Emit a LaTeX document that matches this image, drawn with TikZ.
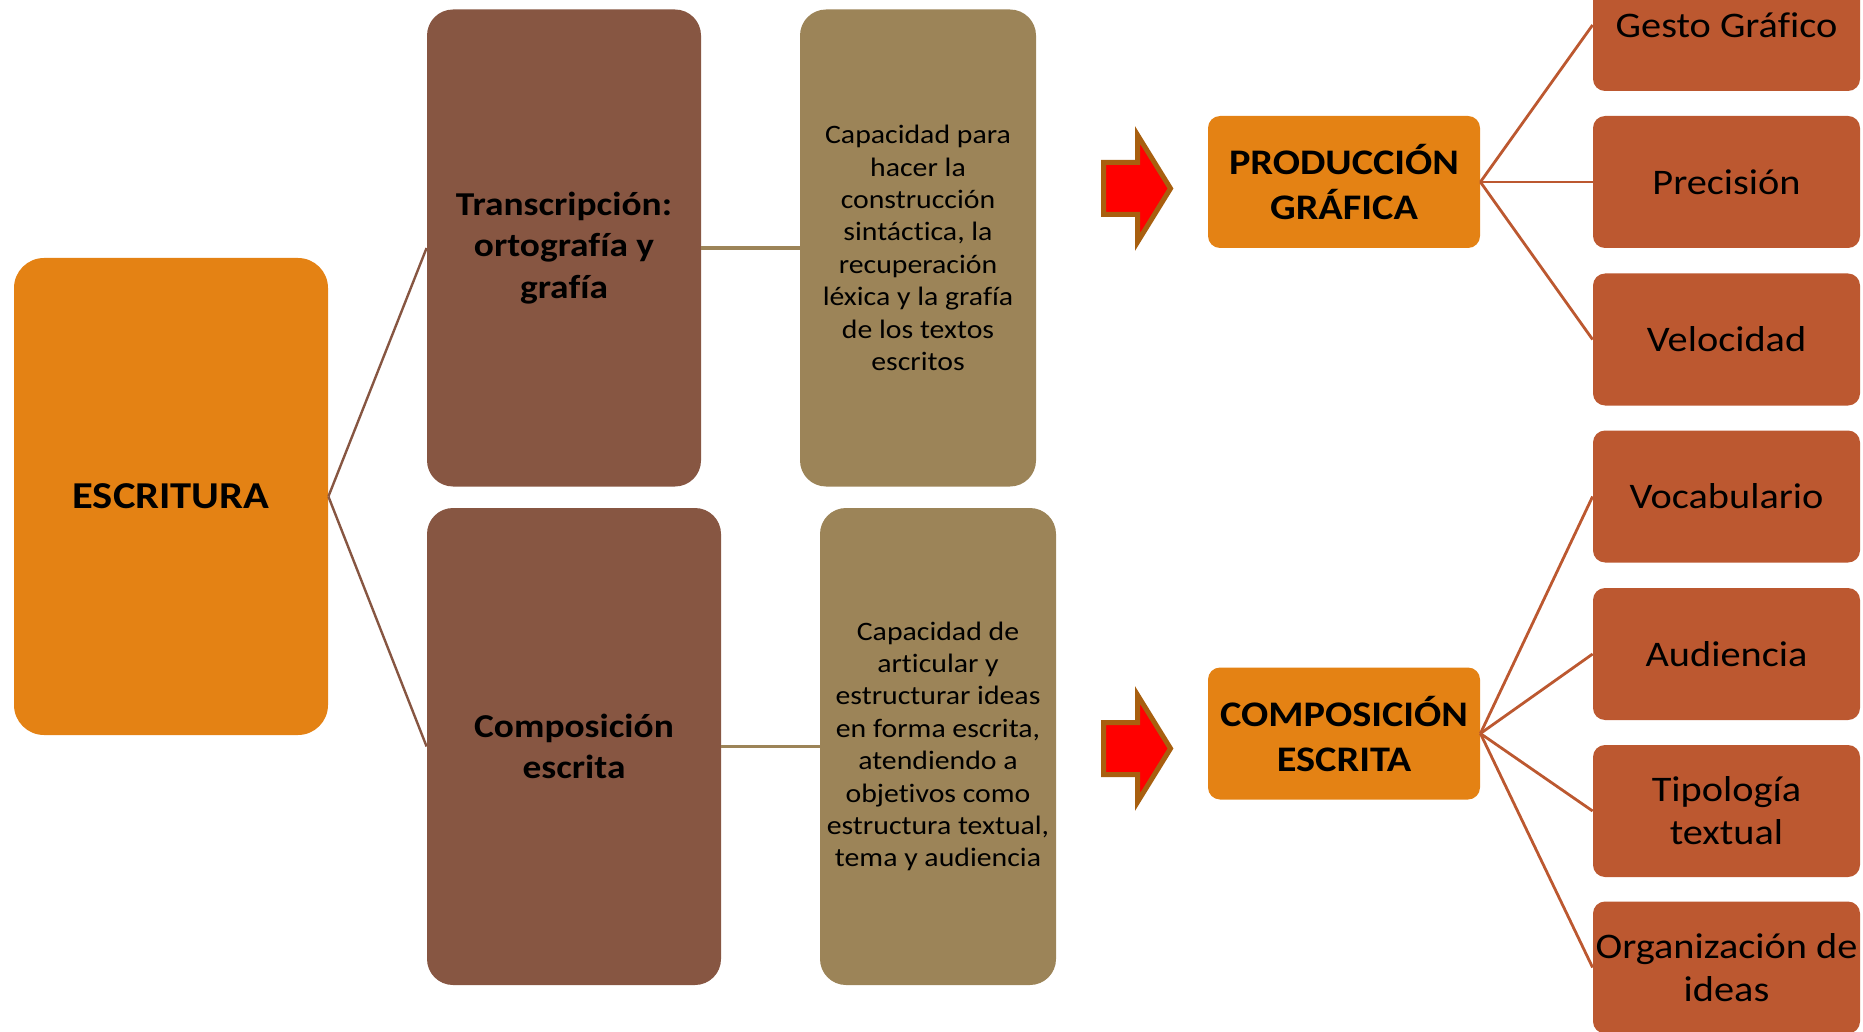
\documentclass[tikz,border=0pt]{standalone}
\usepackage{fontspec}
\setmainfont{Carlito}[FakeStretch=1.12, Ligatures=NoCommon]
\definecolor{orng}{RGB}{228,130,20}
\definecolor{dbrown}{RGB}{135,86,66}
\definecolor{tan}{RGB}{156,132,88}
\definecolor{rust}{RGB}{188,88,48}
\definecolor{arrowedge}{RGB}{168,95,15}
\tikzset{
  box/.style={draw=none, inner sep=0pt, align=center, text=black},
  escbox/.style={box, fill=orng, minimum width=157pt, minimum height=238.5pt, rounded corners=15pt,
    font=\bfseries\fontsize{19}{23}\selectfont},
  midbox/.style={box, fill=dbrown, minimum height=238.5pt, rounded corners=13pt,
    font=\bfseries\fontsize{16.7}{20.8}\selectfont},
  capbox/.style={box, fill=tan, minimum width=118pt, minimum height=238.5pt, rounded corners=13pt,
    font=\fontsize{13.3}{16.2}\selectfont},
  keybox/.style={box, fill=orng, minimum width=136pt, minimum height=66pt, rounded corners=6pt,
    font=\bfseries\fontsize{18}{22.5}\selectfont},
  leafbox/.style={box, fill=rust, minimum width=133.5pt, minimum height=66pt, rounded corners=6pt,
    font=\fontsize{18}{21.5}\selectfont},
  brline/.style={draw=dbrown, line width=1.2pt},
  tanline/.style={draw=tan, line width=1.8pt},
  rustline/.style={draw=rust, line width=1.4pt},
  bigarrow/.style={fill=red, draw=arrowedge, line width=2.5pt},
}
\begin{document}
\begin{tikzpicture}[x=0.5pt,y=-0.5pt]
\useasboundingbox (0,0) rectangle (1863,1032);

\node[escbox] (esc) at (171,496.5) {ESCRITURA};
\node[midbox, minimum width=137pt] (trans) at (564,248) {Transcripción:\\ortografía y\\grafía};
\node[midbox, minimum width=147pt] (comp) at (574,746.5) {Composición\\escrita};
\node[capbox] (cap1) at (918,248) {Capacidad para\\hacer la\\construcción\\sintáctica, la\\recuperación\\léxica y la grafía\\de los textos\\escritos};
\node[capbox] (cap2) at (938,746.5) {Capacidad de\\articular y\\estructurar ideas\\en forma escrita,\\atendiendo a\\objetivos como\\estructura textual,\\tema y audiencia};

\node[keybox] (prod) at (1344,182) {PRODUCCIÓN\\GRÁFICA};
\node[keybox] (compe) at (1344,733.5) {COMPOSICIÓN\\ESCRITA};

\node[leafbox] (gesto) at (1726.5,25) {Gesto Gráfico};
\node[leafbox] (prec) at (1726.5,182) {Precisión};
\node[leafbox] (velo) at (1726.5,339.5) {Velocidad};
\node[leafbox] (voca) at (1726.5,496.5) {Vocabulario};
\node[leafbox] (audi) at (1726.5,654) {Audiencia};
\node[leafbox] (tipo) at (1726.5,811) {Tipología\\textual};
\node[leafbox] (orga) at (1726.5,967.5) {Organización de\\ideas};

\draw[brline] (esc.east) -- (trans.west);
\draw[brline] (esc.east) -- (comp.west);
\draw[tanline] (trans.east) -- (cap1.west);
\draw[tanline] (comp.east) -- (cap2.west);

\foreach \t in {gesto,prec,velo} \draw[rustline] (prod.east) -- (\t.west);
\foreach \t in {voca,audi,tipo,orga} \draw[rustline] (compe.east) -- (\t.west);

\draw[bigarrow] (1103.5,162.5) -- (1137.5,162.5) -- (1137.5,135) -- (1170.5,188.5) -- (1137.5,242) -- (1137.5,214.5) -- (1103.5,214.5) -- cycle;
\draw[bigarrow] (1103.5,722.5) -- (1137.5,722.5) -- (1137.5,695) -- (1170.5,748.5) -- (1137.5,802) -- (1137.5,774.5) -- (1103.5,774.5) -- cycle;
\end{tikzpicture}
\end{document}
